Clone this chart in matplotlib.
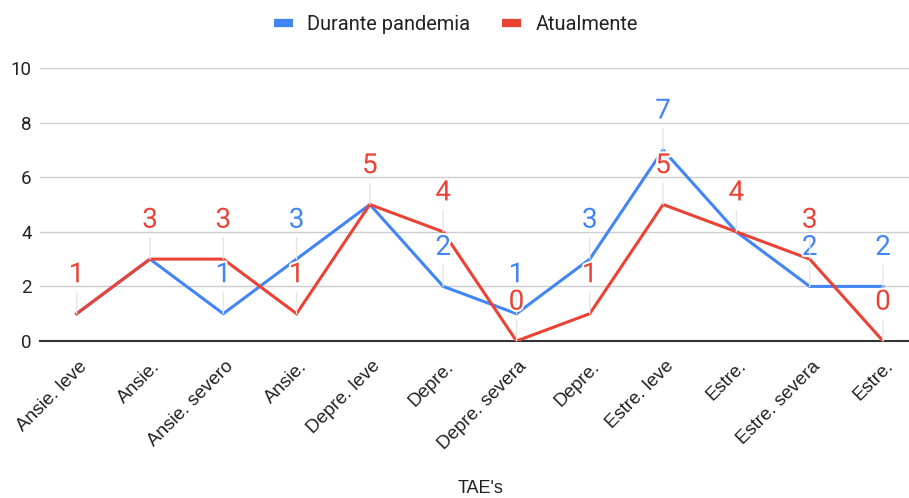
import matplotlib.pyplot as plt
import matplotlib.patheffects as pe
from matplotlib.lines import Line2D
from matplotlib.transforms import ScaledTranslation

CATEGORIES = [
    "Ansie. leve", "Ansie.", "Ansie. severo", "Ansie.",
    "Depre. leve", "Depre.", "Depre. severa", "Depre.",
    "Estre. leve", "Estre.", "Estre. severa", "Estre.",
]
DURANTE = [1, 3, 1, 3, 5, 2, 1, 3, 7, 4, 2, 2]
ATUALMENTE = [1, 3, 3, 1, 5, 4, 0, 1, 5, 4, 3, 0]

BLUE = "#4285F4"
RED = "#EA4335"
LABEL_FONT = "Roboto"
AXIS_FONT = "Liberation Sans"

figure = plt.figure(figsize=(9.09, 4.98), dpi=100)
axis = figure.add_axes([40 / 909, 157 / 498, 1 - 40 / 909, 273 / 498])

positions = list(range(len(CATEGORIES)))
axis.plot(positions, DURANTE, color=BLUE, linewidth=2.2, zorder=3,
          solid_joinstyle="miter")
axis.plot(positions, ATUALMENTE, color=RED, linewidth=2.2, zorder=4,
          solid_joinstyle="miter")

halo = [pe.withStroke(linewidth=3, foreground="white")]


def add_label(x, value, color, z):
    axis.annotate(
        str(value),
        xy=(x, value),
        xytext=(0, 28),
        textcoords="offset points",
        ha="center",
        va="center",
        color=color,
        fontsize=20,
        family=LABEL_FONT,
        zorder=z,
        path_effects=halo,
        arrowprops=dict(arrowstyle="-", color="#E6E6E6", linewidth=1,
                        shrinkA=1, shrinkB=0),
        annotation_clip=False,
    )


for x, (blue_value, red_value) in enumerate(zip(DURANTE, ATUALMENTE)):
    if blue_value != red_value:
        add_label(x, blue_value, BLUE, 5)
    add_label(x, red_value, RED, 6)

axis.set_ylim(0, 10)
axis.set_xlim(-0.5, 11.355)
axis.set_yticks([0, 2, 4, 6, 8, 10])
axis.set_xticks(positions)
axis.set_xticklabels([])

# category labels drawn by hand so they can sit to the right of the tick
label_transform = axis.get_xaxis_transform() + ScaledTranslation(
    11 / 100, -26 / 100, figure.dpi_scale_trans
)
for x, name in zip(positions, CATEGORIES):
    axis.text(x, 0, name, transform=label_transform, rotation=45,
              rotation_mode="anchor", ha="right", va="baseline",
              family=AXIS_FONT, fontsize=13.5, color="#222222",
              clip_on=False)

for label in axis.get_yticklabels():
    label.set_family(LABEL_FONT)
    label.set_fontsize(13.5)
    label.set_color("#222222")

axis.tick_params(length=0, pad=6)
axis.grid(axis="y", color="#CCCCCC", linewidth=1)
axis.set_axisbelow(True)
for name in ["top", "right", "left"]:
    axis.spines[name].set_visible(False)
axis.spines["bottom"].set_color("#333333")
axis.spines["bottom"].set_linewidth(1.5)
axis.spines["bottom"].set_zorder(2)

figure.text(481 / 909, 1 - 488 / 498, "TAE's", ha="center", va="center",
            family=AXIS_FONT, fontsize=13, color="#222222")

handles = [
    Line2D([], [], color=BLUE, linewidth=6, solid_capstyle="butt"),
    Line2D([], [], color=RED, linewidth=6, solid_capstyle="butt"),
]
figure.legend(
    handles,
    ["Durante pandemia", "Atualmente"],
    loc="center",
    bbox_to_anchor=(456 / 909, 1 - 25 / 498),
    ncols=2,
    frameon=False,
    prop={"family": LABEL_FONT, "size": 14.4},
    handlelength=0.95,
    handletextpad=0.7,
    columnspacing=1.6,
    labelcolor="#222222",
)

figure.savefig("out.png", dpi=100, facecolor="white")
